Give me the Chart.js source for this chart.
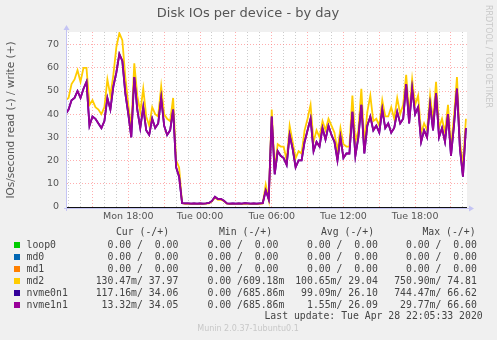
<!DOCTYPE html>
<html>
<head>
<meta charset="utf-8">
<title>Disk IOs per device - by day</title>
<script src="https://cdn.jsdelivr.net/npm/chart.js@4.4.1/dist/chart.umd.min.js"></script>
<style>
	html, body { margin: 0; padding: 0; background: #f0f0f0; }
	#diskChart { display: block; }
</style>
</head>
<body>
<canvas id="diskChart" width="497" height="340"></canvas>
<script>
"use strict";

// hours relative to Tue 00:00, one sample every 15 minutes
const startHour = -11.25;
const stepHours = 0.25;
const tickHours = [-6, 0, 6, 12, 18];
const tickLabels = ['Mon 18:00', 'Tue 00:00', 'Tue 06:00', 'Tue 12:00', 'Tue 18:00'];

const md2Write = [
	46, 47, 53, 55, 59, 54, 60, 60, 44, 46, 43, 42, 40, 43, 55, 48, 57, 69, 75, 72,
	56, 44, 34, 62, 48, 41, 51, 39, 35, 43, 40, 39, 52, 40, 38, 37, 47, 20, 17, 1.6,
	1.2, 1.3, 1.2, 1.3, 1.1, 1.3, 1.2, 1.3, 1.4, 2.3, 4.0, 3.0, 3.1, 2.4, 1.3, 1.1, 1.2, 1.2, 1.3, 1.1,
	1.3, 1.2, 1.2, 1.3, 1.1, 1.2, 1.4, 9.5, 3.0, 42, 16, 27, 26, 26, 20, 35, 28, 21, 24, 23,
	33, 38, 44, 28, 33, 30, 37, 33, 38, 35, 32, 24, 34, 27, 26, 26, 48, 28, 33, 51,
	27, 41, 48, 37, 38, 35, 46, 39, 39, 43, 38, 47, 40, 44, 57, 40, 55, 44, 48, 32,
	36, 33, 48, 37, 54, 34, 38, 32, 44, 26, 39, 56, 28, 18, 38
];
const nvme0n1Write = [
	40, 42, 46, 47, 50, 47, 51, 54, 35, 39, 38, 36, 34, 37, 47, 42, 52, 58, 66, 63,
	49, 40, 30, 56, 42, 34, 43, 33, 31, 38, 34, 36, 47, 35, 31, 33, 42, 17, 13, 1.5,
	1.4, 1.4, 1.3, 1.4, 1.3, 1.4, 1.3, 1.4, 1.6, 2.5, 4.3, 3.3, 3.4, 2.6, 1.4, 1.3, 1.4, 1.3, 1.4, 1.3,
	1.5, 1.4, 1.3, 1.4, 1.3, 1.4, 1.5, 7, 3.2, 39, 14, 24, 22, 21, 18, 31, 25, 17, 20, 20,
	28, 33, 38, 24, 28, 26, 34, 29, 35, 31, 28, 20, 30, 21, 23, 23, 41, 22, 30, 44,
	23, 35, 39, 33, 35, 32, 42, 34, 36, 32, 34, 41, 36, 38, 53, 36, 51, 40, 43, 28,
	33, 30, 44, 33, 49, 30, 34, 28, 40, 22, 35, 51, 25, 13, 34
];
const nvme1n1Write = [
	40, 42, 46, 47, 50, 47, 51, 54, 35, 39, 38, 36, 34, 37, 47, 42, 52, 58, 66, 63,
	49, 40, 30, 56, 42, 34, 43, 33, 31, 38, 34, 36, 47, 35, 31, 33, 42, 17, 13, 1.5,
	1.4, 1.4, 1.3, 1.4, 1.3, 1.4, 1.3, 1.4, 1.6, 2.5, 4.3, 3.3, 3.4, 2.6, 1.4, 1.3, 1.4, 1.3, 1.4, 1.3,
	1.5, 1.4, 1.3, 1.4, 1.3, 1.4, 1.5, 7, 3.2, 39, 14, 24, 22, 21, 18, 31, 25, 17, 20, 20,
	28, 33, 38, 24, 28, 26, 34, 29, 35, 31, 28, 20, 30, 21, 23, 23, 41, 22, 30, 44,
	23, 35, 39, 33, 35, 32, 42, 34, 36, 32, 34, 41, 36, 38, 53, 36, 51, 40, 43, 28,
	33, 30, 44, 33, 49, 30, 34, 28, 40, 22, 35, 51, 25, 13, 34
];

// legend table
const legendNames = ['loop0', 'md0', 'md1', 'md2', 'nvme0n1', 'nvme1n1'];
const legendColors = ['#00CC00', '#0066B3', '#FF8000', '#FFCC00', '#330099', '#990099'];
const curRead = ['0.00', '0.00', '0.00', '130.47m', '117.16m', '13.32m'];
const curWrite = ['0.00', '0.00', '0.00', '37.97', '34.06', '34.05'];
const minRead = ['0.00', '0.00', '0.00', '0.00', '0.00', '0.00'];
const minWrite = ['0.00', '0.00', '0.00', '609.18m', '685.86m', '685.86m'];
const avgRead = ['0.00', '0.00', '0.00', '100.65m', '99.09m', '1.55m'];
const avgWrite = ['0.00', '0.00', '0.00', '29.04', '26.10', '26.09'];
const maxRead = ['0.00', '0.00', '0.00', '750.90m', '744.47m', '29.77m'];
const maxWrite = ['0.00', '0.00', '0.00', '74.81', '66.62', '66.60'];


function toPoints(values) {
	return values.map((v, i) => ({ x: startHour + i * stepHours, y: v }));
}

function pad(s) {
	return (s.endsWith('m') ? s : s + ' ').padStart(7);
}

const majorGrid = 'rgba(255, 120, 120, 0.6)';
const minorGrid = 'rgba(170, 170, 170, 0.6)';
const axisBlue = '#c4c4f4';

const muninFrame = {
	id: 'muninFrame',
	beforeDraw(chart) {
		const { ctx, chartArea: a } = chart;
		ctx.save();
		ctx.fillStyle = '#f0f0f0';
		ctx.fillRect(0, 0, chart.width, chart.height);
		ctx.fillStyle = '#ffffff';
		ctx.fillRect(a.left, a.top, a.right - a.left, a.bottom - a.top);
		ctx.restore();
	},
	beforeDatasetsDraw(chart) {
		const { ctx, chartArea: a } = chart;
		const y0 = Math.round(chart.scales.y.getPixelForValue(0)) + 0.5;
		ctx.save();
		ctx.strokeStyle = '#111';
		ctx.lineWidth = 1;
		ctx.beginPath();
		ctx.moveTo(a.left, y0);
		ctx.lineTo(a.right, y0);
		ctx.stroke();
		ctx.restore();
	},
	afterDraw(chart) {
		const { ctx, chartArea: a } = chart;
		ctx.save();

		// axes with arrows
		ctx.strokeStyle = axisBlue;
		ctx.fillStyle = axisBlue;
		ctx.lineWidth = 1;
		ctx.beginPath();
		ctx.moveTo(a.left - 0.5, a.bottom + 3);
		ctx.lineTo(a.left - 0.5, a.top - 3);
		ctx.moveTo(a.left - 3, a.bottom + 0.5);
		ctx.lineTo(a.right + 3, a.bottom + 0.5);
		ctx.stroke();
		ctx.beginPath();
		ctx.moveTo(a.left - 3.5, a.top - 2);
		ctx.lineTo(a.left + 2.5, a.top - 2);
		ctx.lineTo(a.left - 0.5, a.top - 7);
		ctx.fill();
		ctx.beginPath();
		ctx.moveTo(a.right + 2, a.bottom - 2.5);
		ctx.lineTo(a.right + 2, a.bottom + 3.5);
		ctx.lineTo(a.right + 7, a.bottom + 0.5);
		ctx.fill();

		// title
		ctx.fillStyle = '#555';
		ctx.font = '13px "DejaVu Sans"';
		ctx.textAlign = 'center';
		ctx.textBaseline = 'middle';
		ctx.fillText('Disk IOs per device - by day', 248, 14);

		// watermark
		ctx.save();
		ctx.translate(488, 5);
		ctx.rotate(Math.PI / 2);
		ctx.fillStyle = '#c8c8c8';
		ctx.font = '8px "DejaVu Sans"';
		ctx.textAlign = 'left';
		ctx.fillText('RRDTOOL / TOBI OETIKER', 0, 0);
		ctx.restore();

		// legend table
		ctx.font = '9.8px "DejaVu Sans Mono"';
		ctx.fillStyle = '#444';
		ctx.textBaseline = 'middle';
		ctx.textAlign = 'center';
		const headers = ['Cur (-/+)', 'Min (-/+)', 'Avg (-/+)', 'Max (-/+)'];
		const headerX = [142.5, 245.5, 347.5, 449];
		headers.forEach((h, i) => ctx.fillText(h, headerX[i], 232.5));

		const colRight = [184.2, 284.3, 383.7, 482.7];
		const cols = [[curRead, curWrite], [minRead, minWrite], [avgRead, avgWrite], [maxRead, maxWrite]];
		legendNames.forEach((name, r) => {
			const y = 245 + r * 12;
			ctx.fillStyle = legendColors[r];
			ctx.fillRect(14, y - 3, 6, 6);
			ctx.fillStyle = '#444';
			ctx.textAlign = 'left';
			ctx.fillText(name, 26.5, y);
			ctx.textAlign = 'right';
			cols.forEach((c, k) => {
				ctx.fillText(pad(c[0][r]) + '/' + pad(c[1][r]), colRight[k], y);
			});
		});
		ctx.textAlign = 'right';
		ctx.fillText('Last update: Tue Apr 28 22:05:33 2020', 482.7, 316.5);

		ctx.textAlign = 'center';
		ctx.fillStyle = '#c8c8c8';
		ctx.font = '8px "DejaVu Sans"';
		ctx.fillText('Munin 2.0.37-1ubuntu0.1', 248, 329);
		ctx.restore();
	}
};

const ctx = document.getElementById('diskChart').getContext('2d');

const diskChart = new Chart(ctx, {
	type: 'line',
	data: {
		datasets: [
			{
				label: 'nvme1n1',
				data: toPoints(nvme1n1Write),
				borderColor: '#990099',
				borderWidth: 1.8,
				order: 1
			},
			{
				label: 'nvme0n1',
				data: toPoints(nvme0n1Write),
				borderColor: '#330099',
				borderWidth: 1.8,
				order: 2
			},
			{
				label: 'md2',
				data: toPoints(md2Write),
				borderColor: '#FFCC00',
				borderWidth: 1.8,
				order: 3
			}
		]
	},
	options: {
		responsive: false,
		animation: false,
		devicePixelRatio: 1,
		layout: {
			padding: { top: 32, right: 30, left: 0, bottom: 0 }
		},
		elements: {
			point: { radius: 0 },
			line: { tension: 0, fill: false }
		},
		plugins: {
			legend: { display: false },
			tooltip: { enabled: false }
		},
		scales: {
			x: {
				type: 'linear',
				min: -11.13,
				max: 22.34,
				afterFit: (scale) => { scale.height = 132; },
				afterBuildTicks: (scale) => {
					const ticks = [];
					for (let h = -11; h <= 22; h++) ticks.push({ value: h });
					scale.ticks = ticks;
				},
				grid: {
					drawTicks: false,
					color: (c) => (c.tick && c.tick.value % 3 === 0) ? majorGrid : minorGrid
				},
				border: { display: false, dash: [1, 2] },
				ticks: {
					autoSkip: false,
					maxRotation: 0,
					padding: 3,
					color: '#555',
					font: { family: 'DejaVu Sans', size: 9.5 },
					callback: (v) => {
						const k = tickHours.indexOf(v);
						return k >= 0 ? tickLabels[k] : '';
					}
				}
			},
			y: {
				type: 'linear',
				min: -0.56,
				max: 75.5,
				afterFit: (scale) => { scale.width = 67; },
				afterBuildTicks: (scale) => {
					const ticks = [];
					for (let v = 0; v <= 75; v += 5) ticks.push({ value: v });
					scale.ticks = ticks;
				},
				grid: {
					drawTicks: false,
					color: (c) => {
						if (!c.tick) return minorGrid;
						if (c.tick.value === 0) return 'rgba(0,0,0,0)';
						return c.tick.value % 10 === 0 ? majorGrid : minorGrid;
					}
				},
				border: { display: false, dash: [1, 2] },
				title: {
					display: true,
					text: 'IOs/second read (-) / write (+)',
					color: '#555',
					font: { family: 'DejaVu Sans', size: 10.5 },
					padding: { top: 4.5, bottom: 0 }
				},
				ticks: {
					padding: 8,
					color: '#555',
					font: { family: 'DejaVu Sans', size: 9.5 },
					callback: (v) => (v % 10 === 0 ? String(v) : '')
				}
			}
		}
	},
	plugins: [muninFrame]
});
</script>
</body>
</html>
